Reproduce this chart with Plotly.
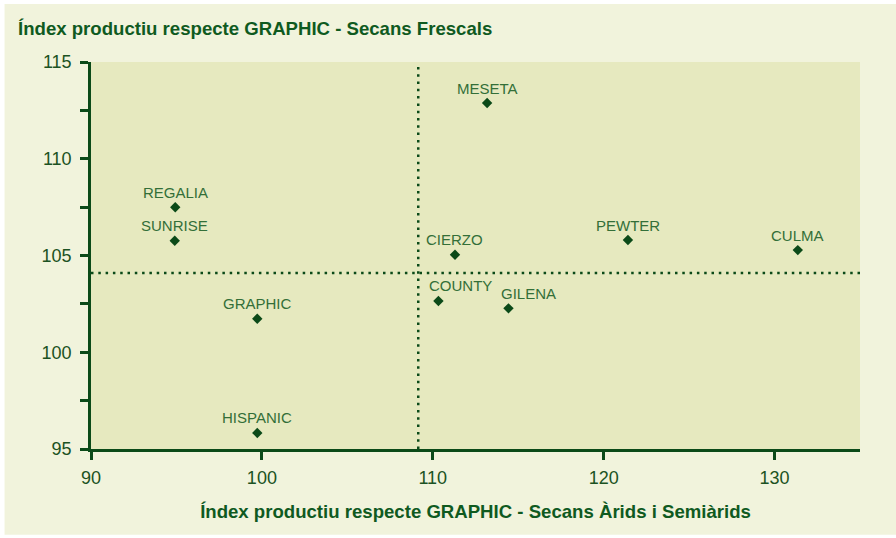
import plotly.graph_objects as go

# ---- data ----
varieties = ["REGALIA", "SUNRISE", "GRAPHIC", "HISPANIC", "MESETA",
             "CIERZO", "COUNTY", "GILENA", "PEWTER", "CULMA"]
index_arids = [94.93, 94.90, 99.73, 99.73, 113.18,
               111.30, 110.33, 114.43, 121.42, 131.36]
index_frescals = [107.49, 105.76, 101.73, 95.83, 112.88,
                  105.04, 102.65, 102.27, 105.80, 105.28]
ref_arids = 109.15
ref_frescals = 104.1
x_ticks = [90, 100, 110, 120, 130]
y_ticks = [95, 97.5, 100, 102.5, 105, 107.5, 110, 112.5, 115]
y_ticktext = ["95", "", "100", "", "105", "", "110", "", "115"]

title_text = "Índex productiu respecte GRAPHIC - Secans Frescals"
xaxis_title = "Índex productiu respecte GRAPHIC - Secans Àrids i Semiàrids"

# ---- styling ----
DARK = "#0B4A18"
TXT = "#1B5222"
LBL = "#336F38"
CREAM = "#F1F3DC"
PLOTBG = "#E6E9BF"
label_xshift = {"COUNTY": 22, "GILENA": 20}

W, H = 896, 538
L, R, T, B = 91.4, 36, 62, 88.7
pw, ph = W - L - R, H - T - B

fig = go.Figure()
fig.add_trace(go.Scatter(
    x=index_arids, y=index_frescals, mode="markers",
    marker=dict(symbol="diamond", size=8, color=DARK, line=dict(width=0)),
    text=varieties, hoverinfo="text", showlegend=False, cliponaxis=False,
))

for name, xv, yv in zip(varieties, index_arids, index_frescals):
    fig.add_annotation(x=xv, y=yv, text=name, showarrow=False,
                       xshift=label_xshift.get(name, 0), yshift=15,
                       font=dict(family="Liberation Sans, Arial, sans-serif", size=15, color=LBL))

shapes = [
    # cream outer panel (white border around)
    dict(type="rect", xref="paper", yref="paper", layer="below",
         x0=(5 - L) / pw, x1=(W + 2 - L) / pw,
         y0=(ph - (535 - T)) / ph, y1=(ph - (4 - T)) / ph,
         fillcolor=CREAM, line=dict(width=0)),
    # plot background
    dict(type="rect", xref="paper", yref="paper", layer="below",
         x0=0, x1=1, y0=0, y1=1, fillcolor=PLOTBG, line=dict(width=0)),
    # reference lines
    dict(type="line", xref="x", yref="y", layer="below",
         x0=ref_arids, x1=ref_arids, y0=y_ticks[0], y1=y_ticks[-1],
         line=dict(color=DARK, width=2.5, dash="2.5px,4.8px")),
    dict(type="line", xref="x", yref="y", layer="below",
         x0=90, x1=135, y0=ref_frescals, y1=ref_frescals,
         line=dict(color=DARK, width=2.5, dash="2.5px,4.8px")),
]

fig.update_layout(
    width=W, height=H,
    margin=dict(l=L, r=R, t=T, b=B, pad=0),
    paper_bgcolor="white",
    plot_bgcolor="rgba(0,0,0,0)",
    shapes=shapes,
    font=dict(family="Liberation Sans, Arial, sans-serif", color=TXT),
    title=dict(text="<b>" + title_text + "</b>", x=18 / W, xanchor="left", xref="container",
               y=1 - 28 / H, yanchor="middle", yref="container",
               font=dict(size=18.6, color="#0F5A1F")),
    xaxis=dict(range=[90, 135], tickvals=x_ticks, ticks="outside", ticklen=8,
               tickwidth=2.5, tickcolor=DARK, showline=True, linewidth=2.5,
               linecolor=DARK, showgrid=False, zeroline=False,
               tickfont=dict(size=18, color=TXT), ticklabelstandoff=3,
               title=dict(text="<b>" + xaxis_title + "</b>", standoff=18,
                          font=dict(size=18.6, color="#0F5A1F"))),
    yaxis=dict(range=[95, 115], tickvals=y_ticks, ticktext=y_ticktext,
               ticks="outside", ticklen=8, tickwidth=2.5, tickcolor=DARK,
               showline=True, linewidth=2.5, linecolor=DARK, showgrid=False,
               zeroline=False, tickfont=dict(size=18, color=TXT),
               ticklabelstandoff=5),
)

fig.write_html("out.html", config={"displayModeBar": False},
               post_script="document.body.style.margin='0';")
